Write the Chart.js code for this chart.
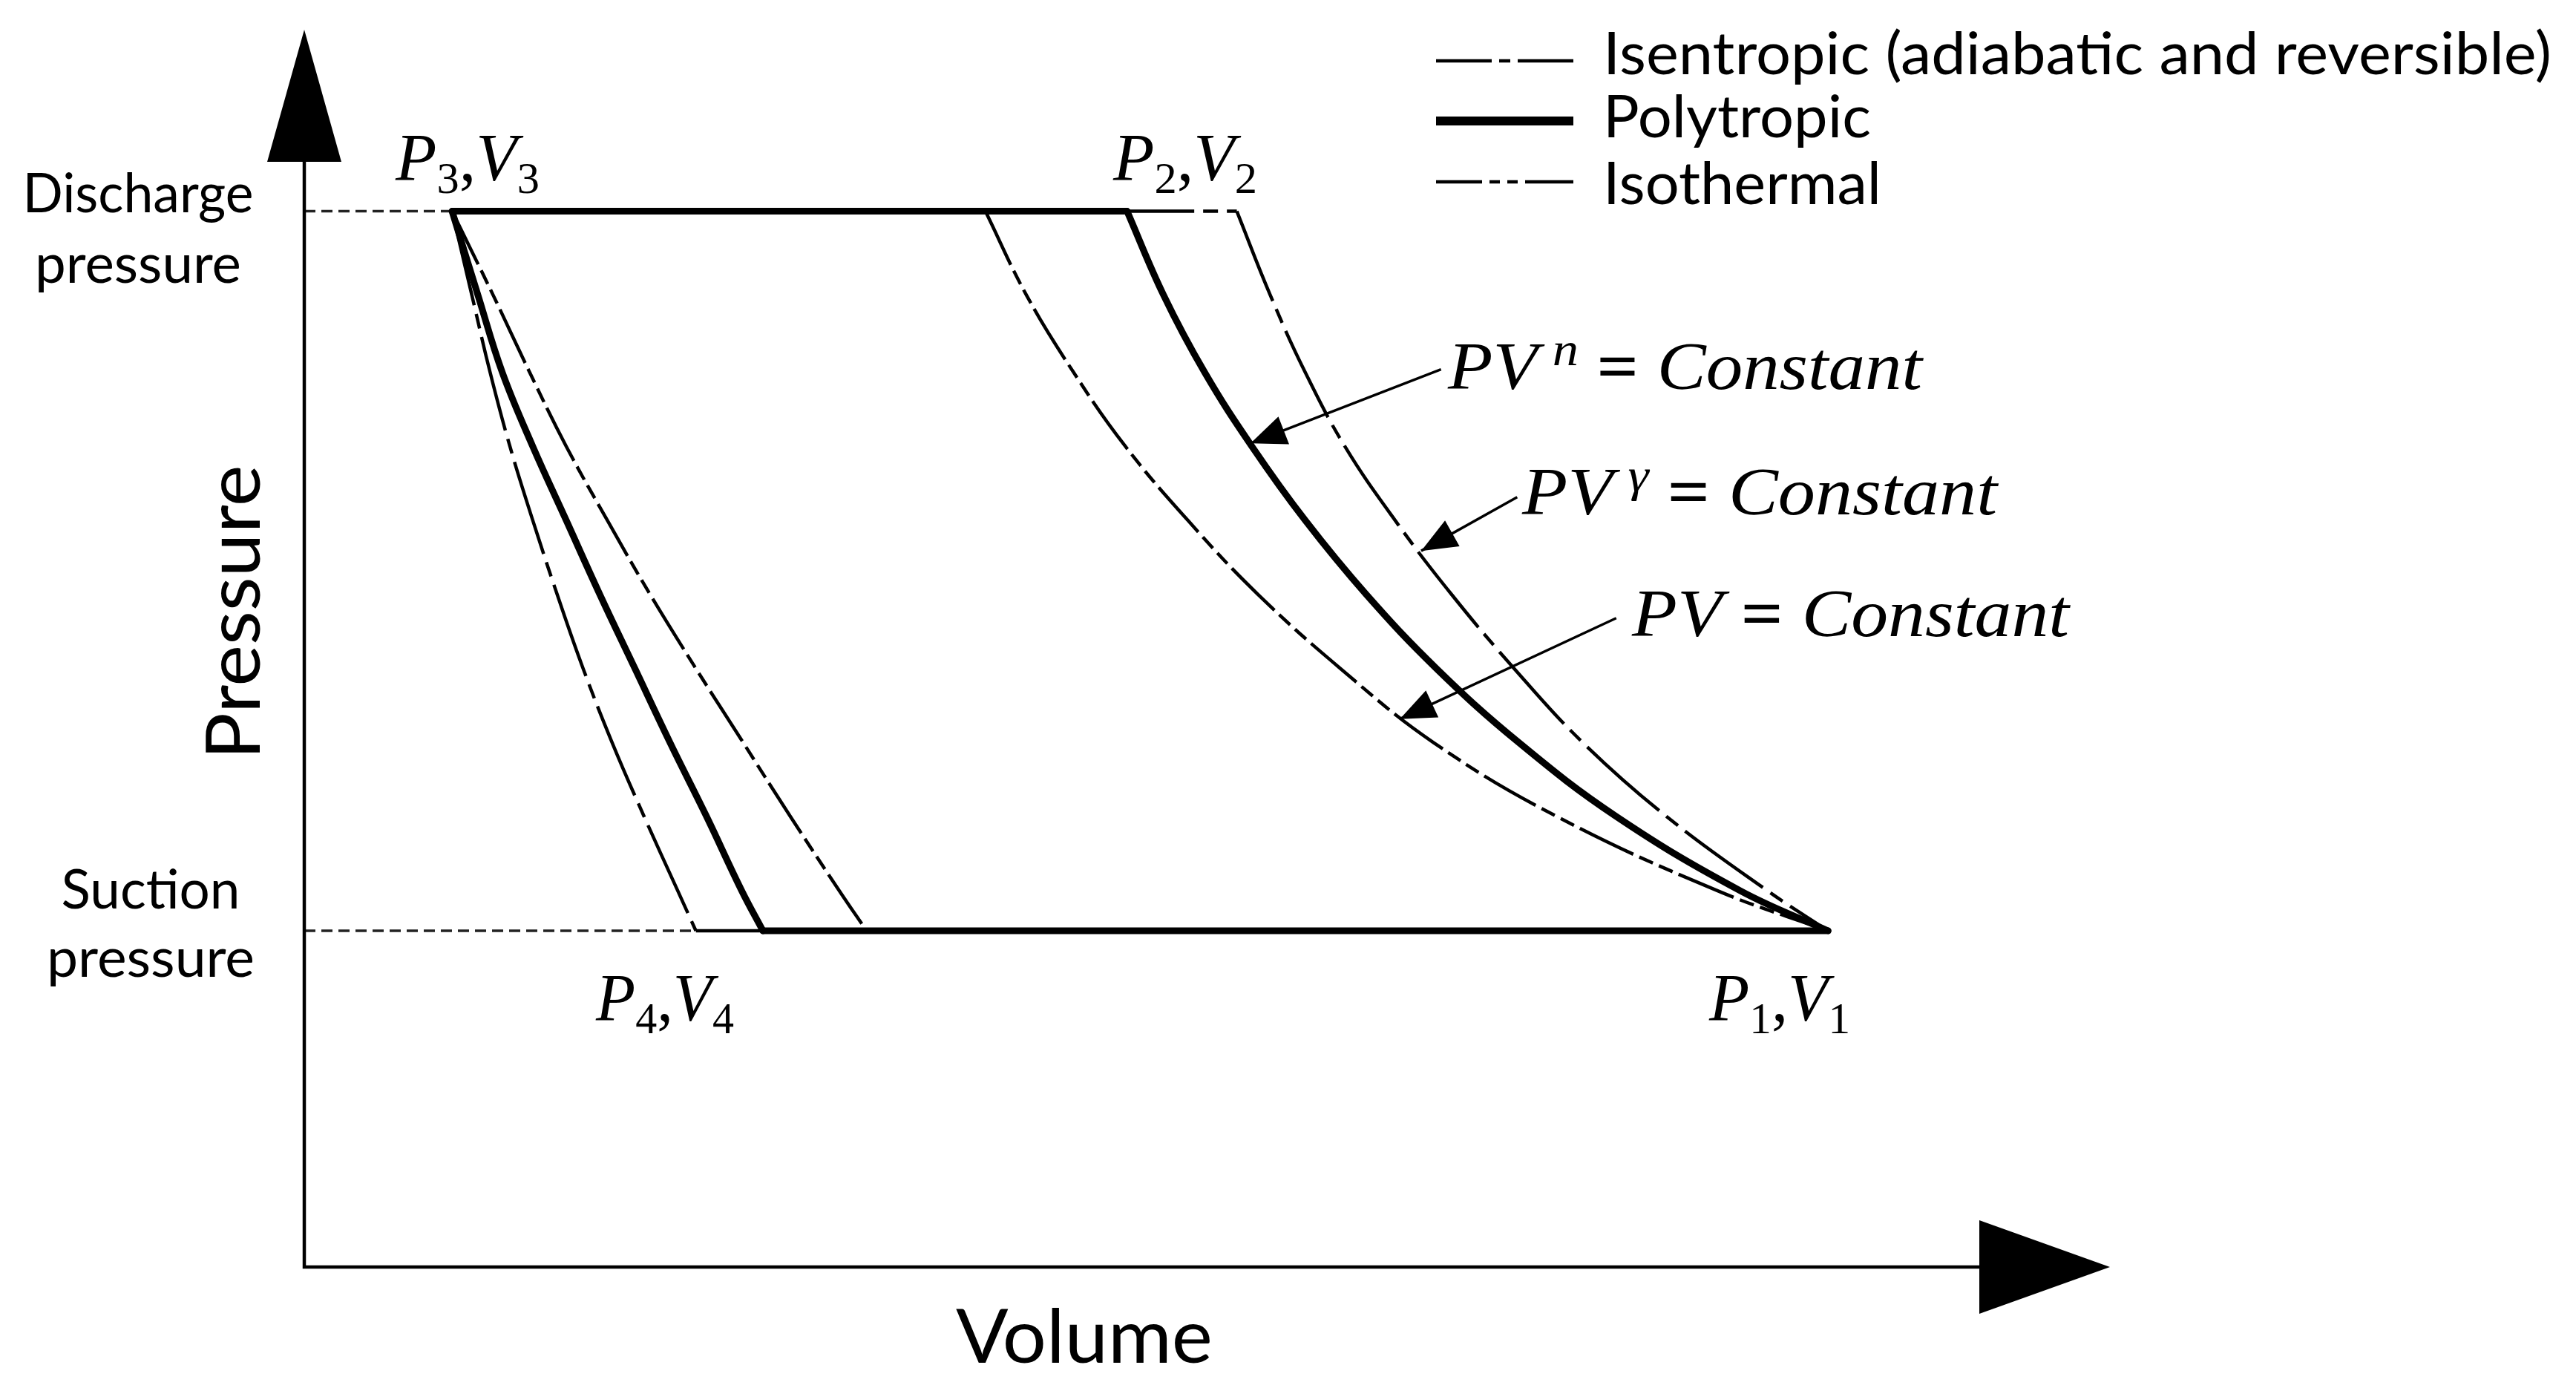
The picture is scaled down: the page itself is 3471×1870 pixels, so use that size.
<!DOCTYPE html>
<html>
<head>
<meta charset="utf-8">
<title>P-V diagram</title>
<script src="https://cdn.jsdelivr.net/npm/chart.js@4.4.0/dist/chart.umd.min.js"></script>
<style>
  html, body { margin: 0; padding: 0; background: #fff; }
  #wrap { width: 3471px; height: 1870px; position: relative; }
</style>
</head>
<body>
<div id="wrap"><canvas id="pvChart"></canvas></div>
<script>
// Pressure levels (suction pressure taken as 1)
var suctionP = 1.00;
var dischargeP = 3.14;

// Volumes at the corners of the cycle
var V1 = 10.0;
var V3 = 0.97;
var V2poly = 5.40, V2isen = 6.12, V2iso = 4.47;
var V4poly = 3.01, V4isen = 2.57, V4iso = 3.69;

var curveP = [3.14, 2.89, 2.66, 2.44, 2.22, 2.00, 1.78, 1.56, 1.34, 1.12, 1.00];

// Compression P1 -> P2, volume at each pressure in curveP
var polyCompV = [5.40, 5.64, 5.91, 6.22, 6.57, 6.97, 7.43, 7.97, 8.61, 9.42, 10.0];
var isenCompV = [6.12, 6.34, 6.57, 6.83, 7.16, 7.53, 7.94, 8.39, 8.94, 9.60, 10.0];
var isoCompV = [4.47, 4.74, 5.05, 5.39, 5.80, 6.26, 6.80, 7.41, 8.22, 9.27, 10.0];

// Expansion P3 -> P4
var polyExpV = [0.97, 1.14, 1.30, 1.50, 1.72, 1.94, 2.17, 2.40, 2.64, 2.87, 3.01];
var isenExpV = [0.97, 1.10, 1.22, 1.35, 1.50, 1.66, 1.83, 2.02, 2.23, 2.45, 2.57];
var isoExpV = [0.97, 1.24, 1.48, 1.72, 1.99, 2.27, 2.57, 2.88, 3.19, 3.51, 3.69];

var legendLabels = ['Isentropic (adiabatic and reversible)', 'Polytropic', 'Isothermal'];

// Fonts
var SANS = 'Lato, "Open Sans", sans-serif';
var SERIF = '"Liberation Serif", "DejaVu Serif", serif';
function sans(size) { return size + 'px ' + SANS; }
function ital(size) { return 'italic ' + size + 'px ' + SERIF; }
function rom(size) { return size + 'px ' + SERIF; }

// Line styles
var polyStyle = { borderWidth: 9, borderDash: [], borderCapStyle: 'round' };
var isenStyle = { borderWidth: 4.5, borderDash: [130, 12, 20, 12] };
var isoStyle = { borderWidth: 4.5, borderDash: [80, 9, 20, 9, 20, 9] };
var refStyle = { borderWidth: 3.5, borderDash: [15, 8], borderColor: '#222' };

function pts(vs, ps) {
    return vs.map(function (v, i) { return { x: v, y: ps[i] }; });
}
function hline(va, vb, p) {
    return [{ x: va, y: p }, { x: vb, y: p }];
}
function makeSet(label, data, style, curved) {
    return Object.assign({
        label: label,
        data: data,
        showLine: true,
        pointRadius: 0,
        borderColor: '#000',
        fill: false,
        tension: curved ? 0.4 : 0
    }, style);
}

// First dataset is drawn on top
var datasets = [
    makeSet('Polytropic', pts(polyCompV, curveP), polyStyle, true),
    makeSet('Polytropic', hline(V3, V2poly, dischargeP), polyStyle, false),
    makeSet('Polytropic', pts(polyExpV, curveP), polyStyle, true),
    makeSet('Polytropic', hline(V4poly, V1, suctionP), polyStyle, false),
    makeSet('Isentropic', pts(isenCompV, curveP), isenStyle, true),
    makeSet('Isentropic', hline(V3, V2isen, dischargeP), isenStyle, false),
    makeSet('Isentropic', pts(isenExpV, curveP), isenStyle, true),
    makeSet('Isentropic', hline(V4isen, V1, suctionP), isenStyle, false),
    makeSet('Isothermal', pts(isoCompV, curveP), isoStyle, true),
    makeSet('Isothermal', hline(V3, V2iso, dischargeP), isoStyle, false),
    makeSet('Isothermal', pts(isoExpV, curveP), isoStyle, true),
    makeSet('Isothermal', hline(V4iso, V1, suctionP), isoStyle, false),
    makeSet('discharge', hline(0, V3, dischargeP), refStyle, false),
    makeSet('suction', hline(0, V4isen, suctionP), refStyle, false)
];

// Draw a row of text pieces, squeezed or stretched to a given width
function drawRuns(ctx, runs, x, y, width, align) {
    var total = 0;
    var widths = runs.map(function (r) {
        ctx.font = r.font;
        var w = ctx.measureText(r.text).width;
        total += w;
        return w;
    });
    ctx.save();
    ctx.translate(align === 'center' ? x - width / 2 : x, y);
    ctx.scale(width / total, 1);
    var cx = 0;
    runs.forEach(function (r, i) {
        ctx.font = r.font;
        ctx.fillText(r.text, cx, r.dy || 0);
        cx += widths[i];
    });
    ctx.restore();
}

function stateRuns(n) {
    return [
        { text: 'P', font: ital(90) },
        { text: n, font: rom(60), dy: 17 },
        { text: ',', font: rom(90) },
        { text: 'V', font: ital(90) },
        { text: n, font: rom(60), dy: 17 }
    ];
}
function eqRuns(sup) {
    var r = [{ text: 'PV', font: ital(90) }];
    if (sup) {
        r.push({ text: '\u2009', font: rom(90) });
        r.push({ text: sup, font: ital(64), dy: -32 });
    }
    r.push({ text: ' = ', font: 'bold ' + rom(90) });
    r.push({ text: 'Constant', font: ital(90) });
    return r;
}

// Callout arrows pointing at the curves (volume, pressure)
var callouts = [
    { tail: [7.46, 2.67], tip: [6.21, 2.45] },
    { tail: [7.96, 2.29], tip: [7.33, 2.13] },
    { tail: [8.61, 1.93], tip: [7.19, 1.63] }
];

function arrowHead(ctx, tx, ty, fx, fy, len, half) {
    var a = Math.atan2(ty - fy, tx - fx);
    var bx = tx - len * Math.cos(a), by = ty - len * Math.sin(a);
    ctx.beginPath();
    ctx.moveTo(tx, ty);
    ctx.lineTo(bx + half * Math.sin(a), by - half * Math.cos(a));
    ctx.lineTo(bx - half * Math.sin(a), by + half * Math.cos(a));
    ctx.closePath();
    ctx.fill();
}

var decorPlugin = {
    id: 'decor',
    afterDatasetsDraw: function (chart) {
        var ctx = chart.ctx;
        var xs = chart.scales.x, ys = chart.scales.y;
        var x0 = xs.getPixelForValue(0), y0 = ys.getPixelForValue(0);
        var xEnd = xs.getPixelForValue(xs.max), yEnd = ys.getPixelForValue(ys.max);
        ctx.save();
        ctx.strokeStyle = '#000';
        ctx.fillStyle = '#000';

        // axes with arrowheads
        ctx.lineWidth = 4.5;
        ctx.setLineDash([]);
        ctx.beginPath();
        ctx.moveTo(x0, yEnd + 100);
        ctx.lineTo(x0, y0);
        ctx.lineTo(xEnd - 100, y0);
        ctx.stroke();
        ctx.beginPath();
        ctx.moveTo(x0, yEnd);
        ctx.lineTo(x0 - 50, yEnd + 178);
        ctx.lineTo(x0 + 50, yEnd + 178);
        ctx.closePath();
        ctx.fill();
        ctx.beginPath();
        ctx.moveTo(xEnd, y0);
        ctx.lineTo(xEnd - 176, y0 - 63);
        ctx.lineTo(xEnd - 176, y0 + 63);
        ctx.closePath();
        ctx.fill();

        // callout arrows
        ctx.lineWidth = 3.5;
        callouts.forEach(function (c) {
            var fx = xs.getPixelForValue(c.tail[0]), fy = ys.getPixelForValue(c.tail[1]);
            var tx = xs.getPixelForValue(c.tip[0]), ty = ys.getPixelForValue(c.tip[1]);
            ctx.beginPath();
            ctx.moveTo(fx, fy);
            ctx.lineTo(tx, ty);
            ctx.stroke();
            arrowHead(ctx, tx, ty, fx, fy, 48, 20);
        });

        // axis titles
        ctx.textBaseline = 'alphabetic';
        drawRuns(ctx, [{ text: 'Volume', font: sans(100) }], 1288, 1836, 346, 'left');
        ctx.save();
        ctx.translate(350, 825);
        ctx.rotate(-Math.PI / 2);
        drawRuns(ctx, [{ text: 'Pressure', font: sans(100) }], 0, 0, 397, 'center');
        ctx.restore();

        // pressure level labels
        var yd = ys.getPixelForValue(dischargeP), ysu = ys.getPixelForValue(suctionP);
        drawRuns(ctx, [{ text: 'Discharge', font: sans(74) }], 186, yd + 1, 311, 'center');
        drawRuns(ctx, [{ text: 'pressure', font: sans(74) }], 186, yd + 96, 278, 'center');
        drawRuns(ctx, [{ text: 'Suction', font: sans(74) }], 203, ysu - 30, 241, 'center');
        drawRuns(ctx, [{ text: 'pressure', font: sans(74) }], 203, ysu + 62, 280, 'center');

        // state point labels
        drawRuns(ctx, stateRuns('3'), 533, 243, 194, 'left');
        drawRuns(ctx, stateRuns('2'), 1500, 243, 194, 'left');
        drawRuns(ctx, stateRuns('4'), 803, 1375, 186, 'left');
        drawRuns(ctx, stateRuns('1'), 2303, 1375, 190, 'left');

        // process equations
        drawRuns(ctx, eqRuns('n'), 1951, 524, 639, 'left');
        drawRuns(ctx, eqRuns('\u03b3'), 2051, 693, 640, 'left');
        drawRuns(ctx, eqRuns(''), 2199, 857, 589, 'left');

        // legend
        var legendDash = [[75, 10, 15, 10, 75, 400], [], [62, 10, 14, 10, 14, 10, 65, 400]];
        var legendLine = [4.5, 12, 4.5];
        var legendLineY = [82, 163, 245];
        var legendBase = [100, 185, 275];
        var legendW = [1278, 361, 375];
        for (var i = 0; i < legendLabels.length; i++) {
            ctx.lineWidth = legendLine[i];
            ctx.setLineDash(legendDash[i]);
            ctx.beginPath();
            ctx.moveTo(1935, legendLineY[i]);
            ctx.lineTo(2120, legendLineY[i]);
            ctx.stroke();
            ctx.setLineDash([]);
            drawRuns(ctx, [{ text: legendLabels[i], font: sans(80) }], 2160, legendBase[i], legendW[i], 'left');
        }
        ctx.restore();
    }
};

var pvChart = new Chart(document.getElementById('pvChart').getContext('2d'), {
    type: 'scatter',
    data: { datasets: datasets },
    options: {
        responsive: true,
        maintainAspectRatio: false,
        animation: false,
        devicePixelRatio: 1,
        events: [],
        layout: { padding: { left: 410, right: 628, top: 40, bottom: 163 } },
        scales: {
            x: { type: 'linear', min: 0, max: 11.85, display: false },
            y: { type: 'linear', min: 0, max: 3.68, display: false }
        },
        plugins: {
            legend: { display: false },
            tooltip: { enabled: false }
        }
    },
    plugins: [decorPlugin]
});
</script>
</body>
</html>
